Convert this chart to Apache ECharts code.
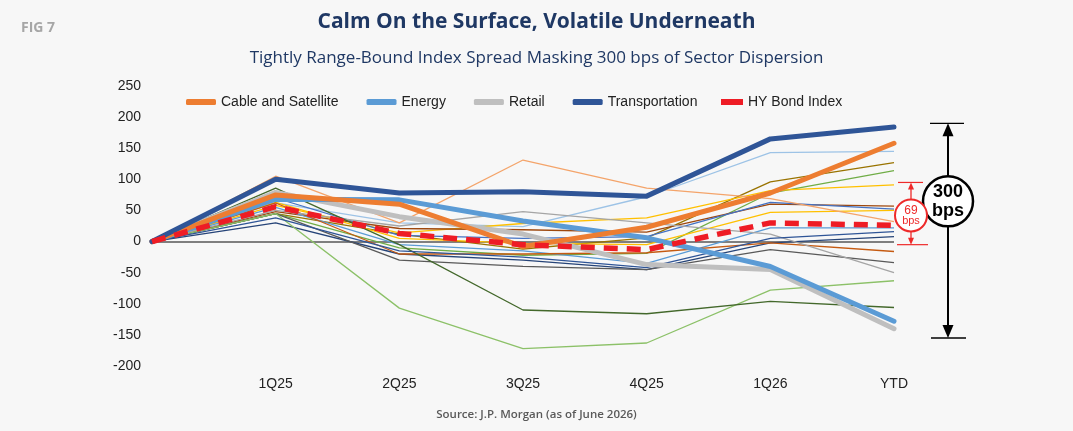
<!DOCTYPE html>
<html>
<head>
<meta charset="utf-8">
<script src="https://cdn.jsdelivr.net/npm/echarts@6/dist/echarts.min.js"></script>
<style>
html,body{margin:0;padding:0;background:#f7f7f7;}
#c{width:1073px;height:431px;}
</style>
</head>
<body>
<div id="c"></div>
<script>
// ---- data ----
const categories = ['', '1Q25', '2Q25', '3Q25', '4Q25', '1Q26', 'YTD'];
const yTicks = { min: -200, max: 250, interval: 50 };

const cableSatellite = [0, 75, 60, -8, 23, 78, 158];
const energy         = [0, 68, 67, 33, 6, -40, -128];
const retail         = [0, 79, 40, 12, -37, -45, -140];
const transportation = [0, 100, 78, 80, 73, 165, 184];
const hyBondIndex    = [0, 56, 13, -5, -13, 30, 26];

// other sectors (thin lines, not in legend)
const otherSectors = [
  [0, 62, 30, 24, 72, 143, 145],
  [0, 45, 12, -12, 6, 96, 127],
  [0, 45, -10, -22, -19, 78, 114],
  [0, 58, 14, 29, 38, 82, 91],
  [0, 48, 21, 19, 15, 60, 57],
  [0, 70, 10, 5, 8, 63, 52],
  [0, 63, 5, -3, -5, 47, 50],
  [0, 105, 30, 131, 86, 69, 32],
  [0, 55, -5, -15, -35, 22, 22],
  [0, 30, -20, -30, -45, -2, 8],
  [0, 62, -20, -20, -18, -2, -16],
  [0, 45, -30, -40, -45, -13, -34],
  [0, 50, 25, 48, 30, 12, -50],
  [0, 45, -107, -172, -163, -78, -63],
  [0, 86, -5, -110, -116, -96, -106],
  [0, 38, -15, -25, -42, 5, 16]
];
const otherColors = ['#9DC3E6', '#997300', '#70AD47', '#FFC000', '#9E480E', '#4472C4', '#FFC000',
  '#F4A46A', '#5B9BD5', '#264478', '#C55A11', '#595959', '#A5A5A5', '#8CC168', '#43682B', '#2F5597'];

// annotation ranges (value units)
const sectorRange = [-155, 190];   // "300 bps" bracket
const indexRange  = [-5, 95];      // "69 bps" bracket
const sectorLabel = ['300', 'bps'];
const indexLabel  = ['69', 'bps'];

// ---- chart ----
const chart = echarts.init(document.getElementById('c'), null, { renderer: 'canvas' });
const FONT = '"Liberation Sans", Arial, sans-serif';

const series = [];
otherSectors.forEach((d, i) => {
  series.push({
    name: 'Sector ' + (i + 1), type: 'line', data: d, symbol: 'none', silent: true,
    lineStyle: { width: 1.3, color: otherColors[i] }, itemStyle: { color: otherColors[i] },
    z: 2, emphasis: { disabled: true }
  });
});
function thick(name, d, color) {
  return { name, type: 'line', data: d, symbol: 'none', silent: true,
    lineStyle: { width: 5, color, cap: 'round', join: 'round' }, itemStyle: { color },
    z: 3, emphasis: { disabled: true } };
}
series.push(thick('Retail', retail, '#BFBFBF'));
series.push(thick('Energy', energy, '#5B9BD5'));
series.push(thick('Cable and Satellite', cableSatellite, '#ED7D31'));
series.push(thick('Transportation', transportation, '#2F5597'));
series.push({
  name: 'HY Bond Index', type: 'line', data: hyBondIndex, symbol: 'none', silent: true,
  lineStyle: { width: 5.5, color: '#EE1C25', type: [14, 9] }, itemStyle: { color: '#EE1C25' },
  z: 5, emphasis: { disabled: true },
  markLine: { silent: true, symbol: 'none', label: { show: false }, z: 1,
    lineStyle: { color: '#7F7F7F', width: 2, type: 'solid' }, data: [{ yAxis: 0 }] }
});

const option = {
  backgroundColor: '#f7f7f7',
  animation: false,
  title: [
    { text: 'FIG 7', left: 16, top: 16, textStyle: { fontFamily: '"Open Sans", sans-serif', fontWeight: 'bold', fontSize: 14, color: '#A6A6A6' } },
    { text: 'Calm On the Surface, Volatile Underneath', left: 'center', top: 7, textStyle: { fontFamily: '"Open Sans", sans-serif', fontWeight: 'bold', fontSize: 21, color: '#1F3864' } },
    { text: 'Tightly Range-Bound Index Spread Masking 300 bps of Sector Dispersion', left: 'center', top: 45, textStyle: { fontFamily: '"Open Sans", sans-serif', fontWeight: 'normal', fontSize: 17, color: '#1F3864' } },
    { text: 'Source: J.P. Morgan (as of June 2026)', left: 'center', top: 404, textStyle: { fontFamily: '"Open Sans", sans-serif', fontWeight: 600, fontSize: 11.5, color: '#595959' } }
  ],
  legend: [
    { left: 181, top: 90, itemWidth: 30, itemHeight: 6, itemGap: 28, icon: 'roundRect', selectedMode: false,
      data: ['Cable and Satellite', 'Energy', 'Retail', 'Transportation'],
      textStyle: { fontFamily: FONT, fontSize: 14, color: '#222' } },
    { left: 716, top: 90, itemWidth: 22, itemHeight: 6, icon: 'rect', selectedMode: false,
      data: ['HY Bond Index'],
      textStyle: { fontFamily: FONT, fontSize: 14, color: '#222' } }
  ],
  grid: { left: 152, right: 179, top: 86, bottom: 65, containLabel: false },
  xAxis: {
    type: 'category', data: categories, boundaryGap: false,
    axisLine: { show: false, onZero: false }, axisTick: { show: false },
    axisLabel: { fontFamily: FONT, fontSize: 14, color: '#222', margin: 11 },
    splitLine: { show: false }
  },
  yAxis: {
    type: 'value', min: yTicks.min, max: yTicks.max, interval: yTicks.interval,
    axisLine: { show: false }, axisTick: { show: false }, splitLine: { show: false },
    axisLabel: { fontFamily: FONT, fontSize: 14, color: '#222', margin: 11 }
  },
  series
};
chart.setOption(option);

// ---- annotations positioned via axes ----
const lastIdx = categories.length - 1;
function px(v) { return chart.convertToPixel({ gridIndex: 0 }, [lastIdx, v]); }
const [xEnd] = px(0);
const yS1 = px(sectorRange[1])[1], yS0 = px(sectorRange[0])[1];
const yI1 = px(indexRange[1])[1], yI0 = px(indexRange[0])[1];

const xs = xEnd + 54, xi = xEnd + 17;
const black = '#000', red = '#EE2A2A';
const g = [];
// 300 bps bracket
g.push({ type: 'line', shape: { x1: xs - 18, y1: yS1, x2: xs + 16, y2: yS1 }, style: { stroke: black, lineWidth: 1.3 } });
g.push({ type: 'line', shape: { x1: xs - 17, y1: yS0, x2: xs + 18, y2: yS0 }, style: { stroke: black, lineWidth: 1.3 } });
g.push({ type: 'line', shape: { x1: xs, y1: yS1 + 10, x2: xs, y2: yS0 - 10 }, style: { stroke: black, lineWidth: 2 } });
g.push({ type: 'polygon', shape: { points: [[xs, yS1], [xs - 5.5, yS1 + 13], [xs + 5.5, yS1 + 13]] }, style: { fill: black } });
g.push({ type: 'polygon', shape: { points: [[xs, yS0], [xs - 5.5, yS0 - 13], [xs + 5.5, yS0 - 13]] }, style: { fill: black } });
const cS = yS1 + 78;
g.push({ type: 'circle', shape: { cx: xs, cy: cS, r: 25 }, style: { fill: '#fff', stroke: black, lineWidth: 2.5 }, z: 10 });
g.push({ type: 'text', x: xs, y: cS - 9, style: { text: sectorLabel[0], fill: black, font: 'bold 18px ' + FONT, align: 'center', verticalAlign: 'middle' }, z: 11 });
g.push({ type: 'text', x: xs, y: cS + 10, style: { text: sectorLabel[1], fill: black, font: 'bold 18px ' + FONT, align: 'center', verticalAlign: 'middle' }, z: 11 });
// 69 bps bracket
g.push({ type: 'line', shape: { x1: xi - 13, y1: yI1, x2: xi + 12, y2: yI1 }, style: { stroke: red, lineWidth: 1.2 } });
g.push({ type: 'line', shape: { x1: xi - 14, y1: yI0, x2: xi + 17, y2: yI0 }, style: { stroke: red, lineWidth: 1.2 } });
g.push({ type: 'line', shape: { x1: xi, y1: yI1 + 5, x2: xi, y2: yI0 - 5 }, style: { stroke: red, lineWidth: 1.3 } });
g.push({ type: 'polygon', shape: { points: [[xi, yI1], [xi - 3, yI1 + 7], [xi + 3, yI1 + 7]] }, style: { fill: red } });
g.push({ type: 'polygon', shape: { points: [[xi, yI0], [xi - 3, yI0 - 7], [xi + 3, yI0 - 7]] }, style: { fill: red } });
const cI = yI1 + 33;
g.push({ type: 'circle', shape: { cx: xi, cy: cI, r: 16 }, style: { fill: '#fff', stroke: red, lineWidth: 2 }, z: 10 });
g.push({ type: 'text', x: xi, y: cI - 5, style: { text: indexLabel[0], fill: red, font: '12px ' + FONT, align: 'center', verticalAlign: 'middle' }, z: 11 });
g.push({ type: 'text', x: xi, y: cI + 6, style: { text: indexLabel[1], fill: red, font: '11px ' + FONT, align: 'center', verticalAlign: 'middle' }, z: 11 });

chart.setOption({ graphic: { elements: g } });
</script>
</body>
</html>
